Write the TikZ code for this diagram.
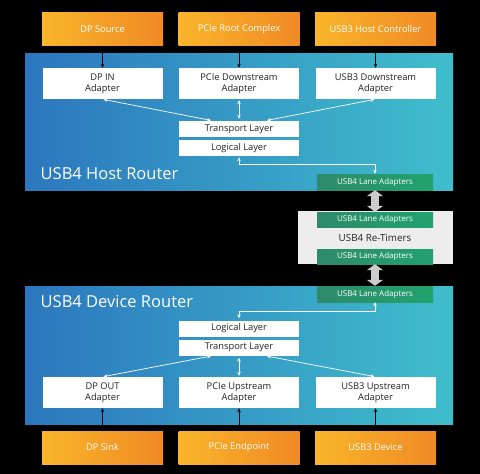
\documentclass[tikz,border=0pt]{standalone}
\usepackage{fontspec}
\setmainfont{Open Sans}
\usetikzlibrary{positioning, arrows.meta}

\definecolor{orgA}{HTML}{F9B52B}
\definecolor{orgB}{HTML}{F08A25}
\definecolor{bluA}{HTML}{2C77BE}
\definecolor{bluB}{HTML}{40BECC}
\definecolor{grnA}{HTML}{2E8A6C}
\definecolor{grnB}{HTML}{21A36D}
\definecolor{ink}{HTML}{222222}
\definecolor{fog}{HTML}{EDEDED}

\begin{document}
\begin{tikzpicture}[x=1pt, y=-1pt,
    every node/.style={inner sep=0pt, align=center, font=\fontsize{9.3}{11}\selectfont},
    source/.style={minimum width=121pt, minimum height=33pt, left color=orgA, right color=orgB, text=white},
    router/.style={minimum width=428pt, left color=bluA, right color=bluB},
    adapter/.style={fill=white, minimum width=120pt, minimum height=31pt, text=ink},
    layer/.style={fill=white, minimum width=120pt, minimum height=16pt, text=ink},
    lane/.style={left color=grnA, right color=grnB, minimum width=116pt, minimum height=16pt, text=white, font=\fontsize{8}{9}\selectfont},
    title/.style={anchor=west, text=white, font=\fontsize{16.5}{20}\selectfont},
    wire/.style={-{Stealth[length=4pt, width=3.5pt]}, black, line width=0.8pt},
    link/.style={{Stealth[length=4pt, width=3.5pt]}-{Stealth[length=4pt, width=3.5pt]}, white, line width=0.7pt, shorten <=1pt, shorten >=2pt},
    bridge/.style={{Triangle[length=6pt, width=16pt]}-{Triangle[length=6pt, width=16pt]}, draw=black!20, line width=8pt}]

    \useasboundingbox[fill=black] (0,0) rectangle (480,474);

    \node[router, minimum height=137pt] (host) at (239,121.5) {};
    \node[router, minimum height=138pt] (device) at (239,355) {};
    \node[fill=fog, minimum width=155pt, minimum height=53pt] (retimer) at (375.5,237.5) {};

    \node[source] (dpsrc) at (102.5,29) {DP Source};
    \node[source] (pcisrc) [right of = dpsrc, node distance=136.5pt] {PCIe Root Complex};
    \node[source] (usbsrc) [right of = pcisrc, node distance=136.5pt] {USB3 Host Controller};

    \node[adapter] (dpin) [below of = dpsrc, node distance=54.5pt] {DP IN\\Adapter};
    \node[adapter] (pcidown) [below of = pcisrc, node distance=54.5pt] {PCIe Downstream\\Adapter};
    \node[adapter] (usbdown) [below of = usbsrc, node distance=54.5pt] {USB3 Downstream\\Adapter};

    \node[layer] (tlhost) at (239,129) {Transport Layer};
    \node[layer] (llhost) [below of = tlhost, node distance=19pt] {Logical Layer};
    \node[title] (hostname) at (40.5,173.5) {USB4 Host Router};
    \node[lane] (lanehost) at (375,182) {USB4 Lane Adapters};

    \node[lane, minimum height=15pt] (laneup) at (375,219.5) {USB4 Lane Adapters};
    \node[text=ink, font=\fontsize{9.8}{11}\selectfont] (rtname) at (375,237.5) {USB4 Re-Timers};
    \node[lane, minimum height=15pt] (lanedown) at (375,256.5) {USB4 Lane Adapters};

    \node[lane] (lanedev) at (375,294) {USB4 Lane Adapters};
    \node[title] (devname) at (40.5,301.5) {USB4 Device Router};
    \node[layer] (lldev) at (239,328.5) {Logical Layer};
    \node[layer] (tldev) [below of = lldev, node distance=19pt] {Transport Layer};

    \node[adapter] (dpout) at (102.5,392.5) {DP OUT\\Adapter};
    \node[adapter] (pciup) [right of = dpout, node distance=136.5pt] {PCIe Upstream\\Adapter};
    \node[adapter] (usbup) [right of = pciup, node distance=136.5pt] {USB3 Upstream\\Adapter};

    \node[source] (dpsink) [below of = dpout, node distance=55pt] {DP Sink};
    \node[source] (pciend) [below of = pciup, node distance=55pt] {PCIe Endpoint};
    \node[source] (usbdev) [below of = usbup, node distance=55pt] {USB3 Device};

    \draw[wire] (dpsrc) -- (dpin);
    \draw[wire] (pcisrc) -- (pcidown);
    \draw[wire] (usbsrc) -- (usbdown);
    \draw[wire] (dpsink) -- (dpout);
    \draw[wire] (pciend) -- (pciup);
    \draw[wire] (usbdev) -- (usbup);

    \draw[link] (dpin.south) -- ([xshift=-26pt]tlhost.north);
    \draw[link] (pcidown.south) -- (tlhost.north);
    \draw[link] (usbdown.south) -- ([xshift=26pt]tlhost.north);
    \draw[link, shorten >=0pt] (llhost.south) -- ++(0,8) -| (lanehost.north);

    \draw[link, shorten <=0pt] (lanedev.south) -- ++(0,9) -| (lldev.north);
    \draw[link] (dpout.north) -- ([xshift=-26pt]tldev.south);
    \draw[link] (pciup.north) -- (tldev.south);
    \draw[link] (usbup.north) -- ([xshift=26pt]tldev.south);

    \draw[bridge] (lanehost) -- (laneup);
    \draw[bridge] (lanedown) -- (lanedev);
\end{tikzpicture}
\end{document}
